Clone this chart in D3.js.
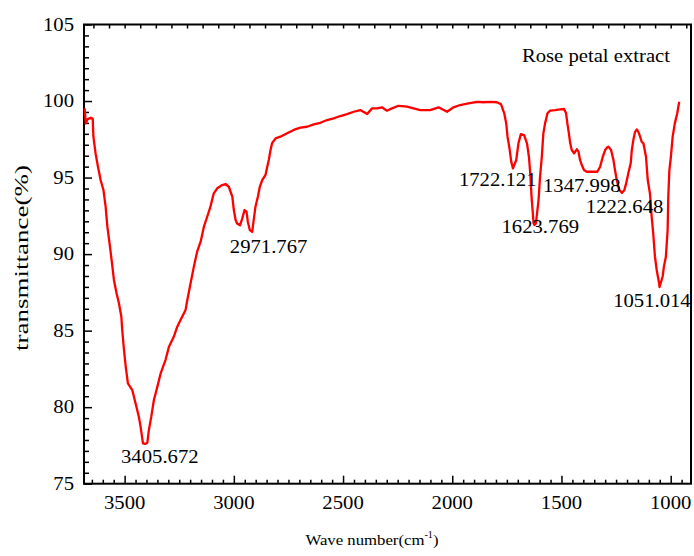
<!DOCTYPE html>
<html>
<head>
<meta charset="utf-8">
<script src="https://cdnjs.cloudflare.com/ajax/libs/d3/7.8.5/d3.min.js"></script>
<style>
  html, body { margin: 0; padding: 0; background: #fff; }
  svg text { font-family: "Liberation Serif", "Times New Roman", serif; fill: #000; }
</style>
</head>
<body>
<svg id="chart" width="694" height="556"></svg>
<script>
// FTIR spectrum: wavenumber (cm-1) and transmittance (%)
const wavenumber = [
  3683, 3678, 3669, 3655, 3646, 3643, 3633, 3622, 3610, 3597, 3587, 3579, 3567, 3556, 3549,
  3537, 3526, 3515, 3511, 3503, 3495, 3485, 3465, 3450, 3435, 3427, 3416, 3405.672, 3396, 3389,
  3378, 3366, 3350, 3335, 3313, 3297, 3275, 3259, 3244, 3221, 3213, 3198, 3183, 3168, 3152,
  3137, 3122, 3107, 3092, 3076, 3053, 3038, 3023, 3007, 3000, 2992, 2985, 2971.767, 2962, 2951,
  2942, 2936, 2927, 2916, 2909, 2901, 2890, 2881, 2870, 2855, 2847, 2840, 2832, 2825, 2809,
  2787, 2756, 2726, 2695, 2665, 2634, 2604, 2573, 2543, 2512, 2482, 2451, 2421, 2390, 2367,
  2344, 2322, 2299, 2276, 2246, 2207, 2177, 2146, 2101, 2063, 2024, 1994, 1964, 1926, 1887,
  1857, 1826, 1796, 1777, 1762, 1753, 1747, 1738, 1730, 1722.121, 1707, 1697, 1686, 1671, 1658,
  1649, 1643, 1636, 1631, 1628, 1623.769, 1617, 1605, 1598, 1590, 1583, 1575, 1564, 1552, 1529,
  1506, 1488, 1479, 1473, 1466, 1460, 1453, 1442, 1430, 1422, 1415, 1407, 1397, 1384, 1347.998,
  1336, 1323, 1311, 1300, 1290, 1285, 1273, 1262, 1255, 1247, 1235, 1222.648, 1212, 1204, 1194,
  1183, 1178, 1171, 1163, 1155, 1148, 1140, 1133, 1125, 1113, 1105, 1095, 1087, 1080, 1072,
  1064, 1053, 1051.014, 1037, 1031, 1022, 1014, 1011, 1006, 999, 991, 981, 970, 961
];
const transmittance = [
  99.52, 98.54, 98.82, 98.91, 98.84, 97.67, 96.58, 95.71, 94.84, 94.19, 93.10, 91.79, 90.48, 89.18, 88.31,
  87.44, 86.79, 85.91, 85.04, 83.74, 82.65, 81.56, 81.12, 80.25, 79.38, 78.73, 77.64, 77.60, 77.68, 78.51,
  79.38, 80.47, 81.34, 82.21, 83.08, 83.95, 84.60, 85.26, 85.70, 86.35, 87.00, 88.09, 89.18, 90.16, 90.81,
  91.79, 92.44, 93.10, 93.97, 94.30, 94.51, 94.58, 94.40, 93.75, 92.88, 92.23, 92.00, 91.88, 92.30, 92.88,
  92.77, 92.12, 91.57, 91.46, 92.23, 93.10, 93.75, 94.40, 94.84, 95.17, 95.71, 96.15, 96.80, 97.24, 97.56,
  97.67, 97.89, 98.11, 98.26, 98.32, 98.48, 98.58, 98.76, 98.87, 99.02, 99.15, 99.30, 99.41, 99.15, 99.52,
  99.52, 99.59, 99.37, 99.52, 99.69, 99.63, 99.52, 99.41, 99.41, 99.59, 99.30, 99.59, 99.74, 99.85, 99.95,
  99.92, 99.95, 99.92, 99.80, 99.20, 98.54, 97.67, 96.91, 96.04, 95.60, 96.15, 97.24, 97.84, 97.78, 97.24,
  96.36, 95.28, 93.53, 92.66, 92.00, 91.90, 92.00, 93.53, 95.06, 96.36, 97.89, 98.54, 99.20, 99.37, 99.41,
  99.46, 99.48, 99.20, 98.54, 97.89, 97.24, 96.80, 96.58, 96.85, 96.69, 96.15, 95.82, 95.49, 95.38, 95.38,
  95.38, 95.71, 96.36, 96.80, 96.98, 97.02, 96.80, 96.15, 95.49, 94.84, 94.19, 94.00, 94.19, 94.62, 95.28,
  95.93, 96.80, 97.45, 97.99, 98.15, 97.99, 97.67, 97.34, 97.24, 96.36, 94.84, 93.97, 92.44, 91.36, 89.83,
  88.96, 88.09, 87.85, 88.52, 89.18, 89.83, 91.57, 93.75, 95.49, 96.36, 97.67, 98.54, 99.20, 99.95
];

// Annotated absorption bands: text, and the data position of each text's anchor
const peakLabels = ["3405.672", "2971.767", "1722.121", "1623.769", "1347.998", "1222.648", "1051.014"];
const peakLabelX = [3339, 2841, 1792, 1597, 1407, 1211, 1086];
const peakLabelY = [76.34, 90.09, 94.45, 91.36, 94.08, 92.67, 86.56];

const xTicks = [3500, 3000, 2500, 2000, 1500, 1000];
const yTicks = [75, 80, 85, 90, 95, 100, 105];
const legendText = "Rose petal extract";
const xTitle = "Wave number(cm";
const xTitleSup = "-1";
const yTitle = "transmittance(%)";

const plot = { left: 84, right: 691, top: 24.5, bottom: 483.7 };
const STRETCH = 1.15;

const svg = d3.select("#chart");

const x = d3.scaleLinear().domain([3686, 907]).range([plot.left, plot.right]);
const y = d3.scaleLinear().domain([75, 105]).range([plot.bottom, plot.top]);

// minor tick values
const xMinor = d3.range(950, 3700, 50).filter(v => v % 500 !== 0 && v <= 3686 && v >= 907);
const yMinor = [];
for (let k = 0; k < 6; k++) for (let j = 1; j < 7; j++) yMinor.push(75 + k * 5 + j * 5 / 7);
const topTicks = [];
for (let v = 3500 + 500 / 7 * 2; v >= 907; v -= 500 / 7) if (v <= 3686) topTicks.push(v);

// bottom axis ticks (inward)
svg.append("g").attr("transform", `translate(0,${plot.bottom})`)
  .call(d3.axisBottom(x).tickValues(xTicks).tickSize(-8).tickFormat(""))
  .call(g => g.select(".domain").remove());
svg.append("g").attr("transform", `translate(0,${plot.bottom})`)
  .call(d3.axisBottom(x).tickValues(xMinor).tickSize(-4).tickFormat(""))
  .call(g => g.select(".domain").remove());

// left axis ticks (inward)
svg.append("g").attr("transform", `translate(${plot.left},0)`)
  .call(d3.axisLeft(y).tickValues(yTicks).tickSize(-8).tickFormat(""))
  .call(g => g.select(".domain").remove());
svg.append("g").attr("transform", `translate(${plot.left},0)`)
  .call(d3.axisLeft(y).tickValues(yMinor).tickSize(-5).tickFormat(""))
  .call(g => g.select(".domain").remove());

// top axis ticks (inward)
svg.append("g").attr("transform", `translate(0,${plot.top})`)
  .call(d3.axisTop(x).tickValues(topTicks).tickSize(-4).tickFormat(""))
  .call(g => g.select(".domain").remove());

svg.selectAll(".tick line").attr("stroke", "#000").attr("stroke-width", 1.5);

// frame
svg.append("rect")
  .attr("x", plot.left).attr("y", plot.top)
  .attr("width", plot.right - plot.left).attr("height", plot.bottom - plot.top)
  .attr("fill", "none").attr("stroke", "#000").attr("stroke-width", 2);

// spectrum
const pts = wavenumber.map((w, i) => [w, transmittance[i]]);
svg.append("path")
  .datum(pts)
  .attr("fill", "none")
  .attr("stroke", "#ff0000")
  .attr("stroke-width", 2.3)
  .attr("stroke-linejoin", "round")
  .attr("d", d3.line().x(d => x(d[0])).y(d => y(d[1])));

function stretchedText(px, py, str, size, anchor, k = STRETCH) {
  return svg.append("text")
    .attr("transform", `translate(${px},${py}) scale(${k},1)`)
    .attr("font-size", size)
    .attr("text-anchor", anchor)
    .text(str);
}

// tick labels
xTicks.forEach(v => stretchedText(x(v), 508.5, String(v), 18, "middle"));
yTicks.forEach(v => stretchedText(plot.left - 10, y(v) + 6, String(v), 18, "end"));

// band labels
peakLabels.forEach((s, i) => stretchedText(x(peakLabelX[i]), y(peakLabelY[i]), s, 18, "middle"));

// legend text
stretchedText(670, 62, legendText, 18, "end");

// axis titles
const xt = stretchedText(372, 545, "", 15.5, "middle", 1.08);
xt.append("tspan").text(xTitle);
xt.append("tspan").attr("font-size", 9.5).attr("dy", -7).text(xTitleSup);
xt.append("tspan").attr("dy", 7).text(")");

svg.append("text")
  .attr("transform", `translate(28,258) rotate(-90)`)
  .attr("font-size", 19)
  .attr("text-anchor", "middle")
  .attr("textLength", 186)
  .attr("lengthAdjust", "spacingAndGlyphs")
  .text(yTitle);
</script>
</body>
</html>
